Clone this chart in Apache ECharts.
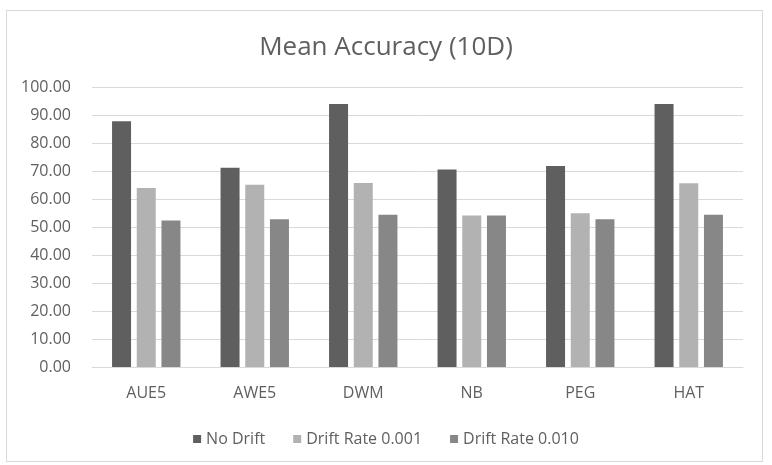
<!DOCTYPE html>
<html>
<head>
<meta charset="utf-8">
<script src="https://cdn.jsdelivr.net/npm/echarts@6/dist/echarts.min.js"></script>
<style>
  html, body { margin: 0; padding: 0; background: #fff; }
  #frame {
    position: absolute; left: 6px; top: 10px;
    width: 755px; height: 450px;
    border: 1px solid #d9d9d9;
  }
  #chart { position: absolute; left: 0; top: 0; width: 772px; height: 465px; }
</style>
</head>
<body>
<div id="frame"></div>
<div id="chart"></div>
<script>
// values
const categories = ['AUE5', 'AWE5', 'DWM', 'NB', 'PEG', 'HAT']
const seriesNames = ['No Drift', 'Drift Rate 0.001', 'Drift Rate 0.010']
const noDrift = [87.8, 71.2, 93.9, 70.5, 71.8, 93.9]
const drift001 = [63.9, 65.1, 65.7, 54.1, 54.9, 65.6]
const drift010 = [52.3, 52.8, 54.4, 54.1, 52.8, 54.4]
const colors = ['#5f5f5f', '#b2b2b2', '#878787']

const font = '"Open Sans", "Liberation Sans", sans-serif'
const textColor = '#5f5f5f'

const chart = echarts.init(document.getElementById('chart'))

const makeSeries = (name, data, i) => ({
  name: name,
  type: 'bar',
  data: data,
  barWidth: 19,
  barGap: '30%',
  itemStyle: { color: colors[i] }
})

chart.setOption({
  animation: false,
  textStyle: { fontFamily: font },
  color: colors,
  title: {
    text: 'Mean Accuracy (10D)',
    left: 'center',
    top: 30,
    textStyle: { fontFamily: font, fontSize: 26, fontWeight: 'normal', color: textColor }
  },
  legend: {
    data: seriesNames,
    top: 426,
    left: 'center',
    icon: 'rect',
    itemWidth: 8,
    itemHeight: 8,
    itemGap: 28,
    textStyle: { fontFamily: font, fontSize: 16, color: textColor }
  },
  grid: {
    left: 92,
    right: 29,
    top: 87,
    bottom: 98
  },
  xAxis: {
    type: 'category',
    data: categories,
    axisTick: { show: false },
    axisLine: { lineStyle: { color: '#d9d9d9' } },
    axisLabel: { fontFamily: font, fontSize: 16, color: textColor, margin: 18 }
  },
  yAxis: {
    type: 'value',
    min: 0,
    max: 100,
    interval: 10,
    axisLabel: {
      fontFamily: font,
      fontSize: 16,
      color: textColor,
      margin: 21,
      formatter: v => v.toFixed(2)
    },
    splitLine: { lineStyle: { color: '#d9d9d9' } }
  },
  series: [
    makeSeries(seriesNames[0], noDrift, 0),
    makeSeries(seriesNames[1], drift001, 1),
    makeSeries(seriesNames[2], drift010, 2)
  ]
})
</script>
</body>
</html>
